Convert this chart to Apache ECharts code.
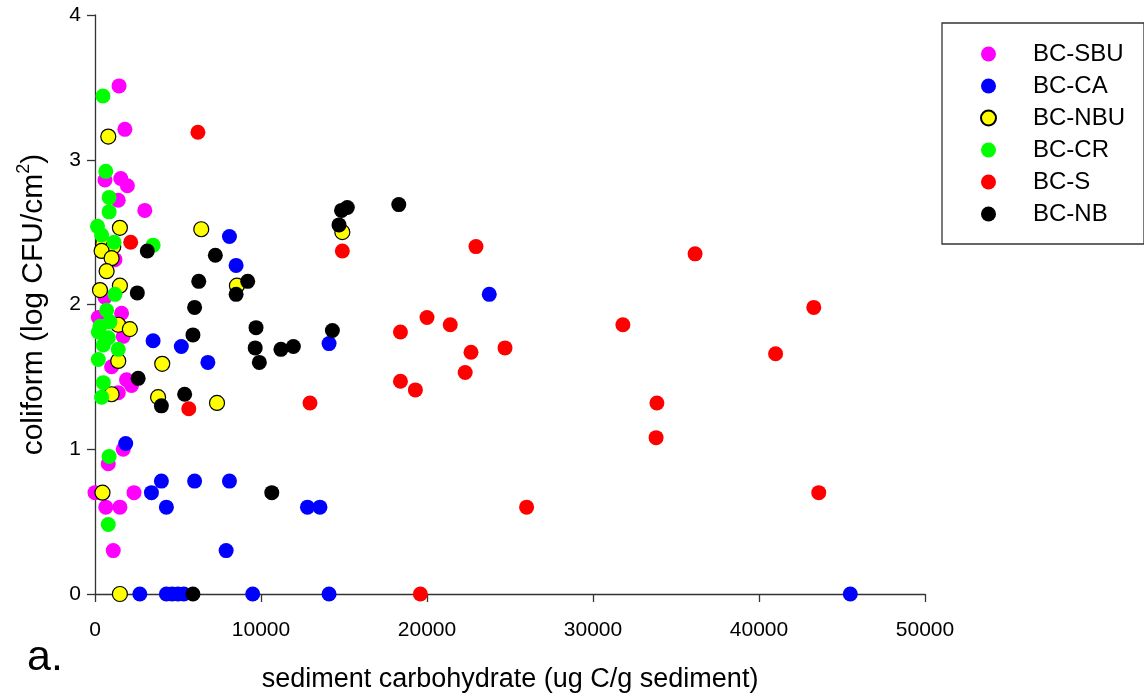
<!DOCTYPE html>
<html><head><meta charset="utf-8">
<script src="https://cdn.jsdelivr.net/npm/echarts@6/dist/echarts.min.js"></script>
<style>html,body{margin:0;padding:0;background:#fff}#c{width:1144px;height:698px}</style>
</head><body><div id="c"></div>
<script>
const seriesNames = ['BC-SBU', 'BC-CA', 'BC-NBU', 'BC-CR', 'BC-S', 'BC-NB'];
const seriesColors = ['#FF00FF', '#0000FF', '#FFFF00', '#00FF00', '#FF0000', '#000000'];
const xTickValues = [0, 10000, 20000, 30000, 40000, 50000];
const yTickValues = [0, 1, 2, 3, 4];

const dataSBU = [[1450,3.51],[1800,3.21],[1550,2.87],[600,2.86],[1950,2.82],[1400,2.72],[3000,2.65],[1200,2.31],[600,2.05],[1600,1.94],[200,1.91],[1700,1.78],[1000,1.57],[1900,1.48],[2200,1.44],[1400,1.39],[1700,1.0],[800,0.9],[0,0.70],[2350,0.70],[650,0.60],[1500,0.60],[1100,0.30]];
const dataCA = [[8100,2.47],[8500,2.27],[23750,2.07],[3500,1.75],[5200,1.71],[6800,1.60],[14100,1.73],[1850,1.04],[3400,0.70],[4000,0.78],[6000,0.78],[8100,0.78],[4300,0.60],[12800,0.60],[13550,0.60],[7900,0.30],[2700,0],[4300,0],[4650,0],[5000,0],[5350,0],[9500,0],[14100,0],[45500,0]];
const dataNBU = [[800,3.16],[1500,2.53],[6400,2.52],[14900,2.50],[500,2.42],[1100,2.40],[400,2.37],[1000,2.32],[700,2.23],[300,2.10],[1500,2.13],[8550,2.13],[1400,1.86],[2100,1.83],[1400,1.61],[4050,1.59],[1000,1.38],[3800,1.36],[7350,1.32],[450,0.70],[1500,0]];
const dataCR = [[480,3.44],[650,2.92],[850,2.74],[850,2.64],[150,2.54],[400,2.48],[1150,2.43],[3500,2.41],[1200,2.07],[700,1.96],[900,1.88],[300,1.85],[200,1.81],[800,1.77],[500,1.72],[1400,1.69],[200,1.62],[500,1.46],[400,1.36],[850,0.95],[800,0.48]];
const dataS = [[6200,3.19],[2150,2.43],[14900,2.37],[22950,2.40],[36150,2.35],[20000,1.91],[18400,1.81],[21400,1.86],[22650,1.67],[24700,1.70],[31800,1.86],[43300,1.98],[41000,1.66],[18400,1.47],[19300,1.41],[22300,1.53],[33850,1.32],[33800,1.08],[12950,1.32],[5650,1.28],[26000,0.60],[43600,0.70],[19600,0]];
const dataNB = [[18300,2.69],[15200,2.67],[14850,2.65],[14700,2.55],[3150,2.37],[7250,2.34],[6250,2.16],[9200,2.16],[8500,2.07],[2550,2.08],[6000,1.98],[5900,1.79],[9700,1.84],[9650,1.70],[9900,1.60],[11200,1.69],[11950,1.71],[14300,1.82],[2600,1.49],[5400,1.38],[4000,1.30],[10650,0.70],[5900,0]];

const allData = [dataSBU, dataCA, dataNBU, dataCR, dataS, dataNB];
const FONT = 'Liberation Sans, Arial, sans-serif';
const AXIS_COLOR = '#333';

const chart = echarts.init(document.getElementById('c'), null, {renderer: 'canvas'});
const series = seriesNames.map((name, i) => ({
  name: name,
  type: 'scatter',
  data: allData[i],
  symbol: 'circle',
  symbolSize: 15,
  itemStyle: {
    color: seriesColors[i],
    opacity: 1,
    borderColor: name === 'BC-NBU' ? '#000' : seriesColors[i],
    borderWidth: name === 'BC-NBU' ? 1.2 : 0
  },
  emphasis: {disabled: true},
  z: 2 + i
}));

chart.setOption({
  animation: false,
  backgroundColor: '#fff',
  textStyle: {fontFamily: FONT},
  grid: {left: 95, top: 15, width: 830, height: 580, containLabel: false},
  xAxis: {
    type: 'value', min: 0, max: 50000, interval: 10000,
    name: 'sediment carbohydrate (ug C/g sediment)',
    nameLocation: 'middle', nameGap: 72,
    nameTextStyle: {fontSize: 27, color: '#000', fontFamily: FONT},
    axisLine: {show: true, onZero: false, lineStyle: {color: AXIS_COLOR, width: 1.3}},
    axisTick: {show: true, inside: false, length: 8, lineStyle: {color: AXIS_COLOR, width: 1.3},
      customValues: xTickValues},
    axisLabel: {fontSize: 21, color: '#000', margin: 26, fontFamily: FONT, customValues: xTickValues,
      formatter: v => String(v)},
    splitLine: {show: false}
  },
  yAxis: {
    type: 'value', min: 0, max: 4, interval: 1,
    name: '{a|coliform (log CFU/cm}{s|2}{a|)}',
    nameLocation: 'middle', nameGap: 46, nameRotate: 90,
    nameTextStyle: {
      color: '#000', fontFamily: FONT,
      rich: {
        a: {fontSize: 30, color: '#000', fontFamily: FONT, lineHeight: 34, verticalAlign: 'bottom'},
        s: {fontSize: 18, color: '#000', fontFamily: FONT, lineHeight: 34, verticalAlign: 'top'}
      }
    },
    axisLine: {show: true, onZero: false, lineStyle: {color: AXIS_COLOR, width: 1.3}},
    axisTick: {show: true, inside: false, length: 8, lineStyle: {color: AXIS_COLOR, width: 1.3},
      customValues: yTickValues},
    axisLabel: {fontSize: 21, color: '#000', margin: 14, fontFamily: FONT, customValues: yTickValues,
      formatter: v => String(v)},
    splitLine: {show: false}
  },
  legend: {
    orient: 'vertical',
    left: 942, top: 23,
    data: seriesNames,
    icon: 'circle',
    itemWidth: 15, itemHeight: 15,
    itemGap: 8,
    padding: [19, 19, 18, 38],
    borderColor: AXIS_COLOR, borderWidth: 1.3,
    textStyle: {fontSize: 24, color: '#000', fontFamily: FONT, lineHeight: 24, padding: [0, 0, 0, 32]},
    selectedMode: false
  },
  graphic: [{
    type: 'text', left: 27, top: 637,
    style: {text: 'a.', fontSize: 43, fill: '#000', fontFamily: FONT}
  }],
  series: series
});
</script>
</body></html>
